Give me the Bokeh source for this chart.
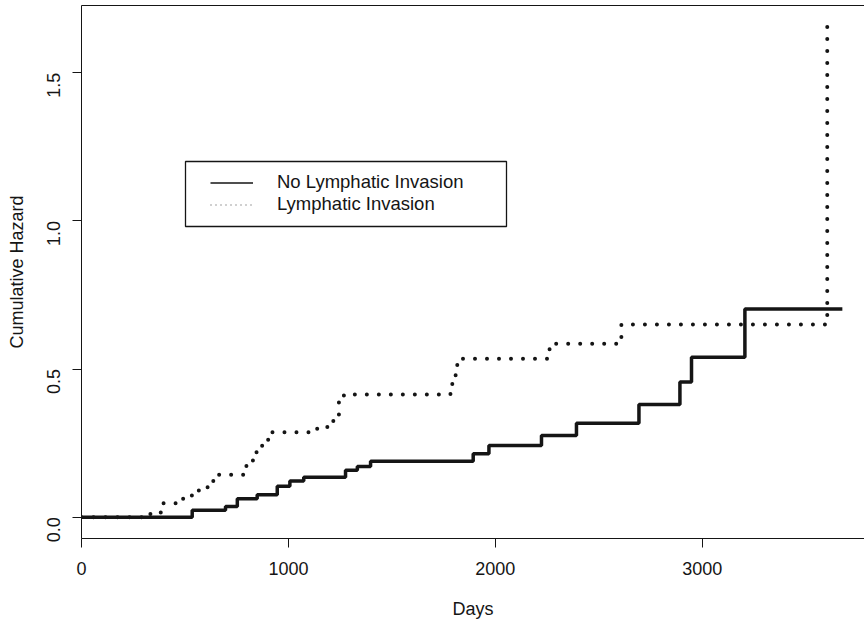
import math
from bokeh.plotting import figure
from bokeh.models import (Range1d, FixedTicker, PrintfTickFormatter, LinearAxis,
                          Legend, LegendItem, BoxAnnotation)
from bokeh.embed import file_html
from bokeh.resources import INLINE

# ---- data ----
no_li_days = [0, 535, 696, 753, 849, 946, 1007, 1074, 1276, 1333, 1397, 1893,
              1969, 2223, 2392, 2694, 2892, 2948, 3206, 3677]
no_li_hazard = [0, 0.023, 0.036, 0.062, 0.076, 0.104, 0.122, 0.135, 0.158, 0.171,
                0.189, 0.214, 0.242, 0.276, 0.317, 0.380, 0.456, 0.540, 0.703, 0.703]

li_days = [0, 333, 391, 478, 519, 559, 599, 637, 784, 797, 846, 873, 902, 1139,
           1188, 1217, 1244, 1268, 1783, 1792, 1808, 1816, 2262, 2609, 3604]
li_hazard = [0, 0.016, 0.047, 0.062, 0.073, 0.090, 0.101, 0.143, 0.160, 0.191,
             0.239, 0.253, 0.287, 0.304, 0.315, 0.332, 0.394, 0.414, 0.437, 0.472,
             0.503, 0.535, 0.585, 0.650, 1.660]

x_ticks = [0, 1000, 2000, 3000]
y_ticks = [0.0, 0.5, 1.0, 1.5]
series_labels = ["No Lymphatic Invasion", "Lymphatic Invasion"]
x_title = "Days"
y_title = "Cumulative Hazard"

FONT = "Liberation Sans"
INK = "#151515"
NAN = float("nan")

p = figure(width=864, height=625, output_backend="svg", toolbar_location=None,
           x_range=Range1d(0, 3784), y_range=Range1d(-0.072, 1.727),
           min_border_left=81, min_border_right=0, min_border_top=5,
           min_border_bottom=87)
p.outline_line_color = None
p.grid.visible = False
p.background_fill_color = "white"
p.border_fill_color = "white"

# axes
p.xaxis.ticker = FixedTicker(ticks=x_ticks)
p.yaxis.ticker = FixedTicker(ticks=y_ticks)
p.yaxis.formatter = PrintfTickFormatter(format="%.1f")
p.yaxis.major_label_orientation = math.pi / 2
p.xaxis.axis_label = x_title
p.yaxis.axis_label = y_title
for ax in (p.xaxis, p.yaxis):
    ax.minor_tick_line_color = None
    ax.major_tick_in = 0
    ax.major_tick_out = 9
    ax.axis_line_color = INK
    ax.major_tick_line_color = INK
    ax.major_label_text_font = FONT
    ax.major_label_text_font_size = "18px"
    ax.major_label_text_color = INK
    ax.axis_label_text_font = FONT
    ax.axis_label_text_font_size = "18px"
    ax.axis_label_text_font_style = "normal"
    ax.axis_label_text_color = INK
p.xaxis.major_label_standoff = 14
p.xaxis.axis_label_standoff = 21
p.yaxis.major_label_standoff = 19
p.yaxis.axis_label_standoff = 11

top_axis = LinearAxis(ticker=FixedTicker(ticks=[]), major_tick_out=0, major_tick_in=0,
                      minor_tick_out=0, minor_tick_in=0, major_label_standoff=0,
                      major_label_text_font_size="0px", axis_line_color=INK)
p.add_layout(top_axis, "above")

# data lines
p.step(no_li_days, no_li_hazard, mode="after", line_color=INK, line_width=3.5)
p.step(li_days, li_hazard, mode="after", line_color=INK, line_width=4,
       line_dash="0 12", line_cap="round")

# legend (thin key lines, as in the reference)
leg_solid = p.line(x=[NAN], y=[NAN], line_color=INK, line_width=1.3)
leg_dot = p.line(x=[NAN], y=[NAN], line_color="#444444", line_width=1.2,
                 line_dash="1 4")
legend = Legend(items=[LegendItem(label=series_labels[0], renderers=[leg_solid]),
                       LegendItem(label=series_labels[1], renderers=[leg_dot])],
                location=(129, 323), padding=0, margin=0, spacing=0,
                border_line_color=None, background_fill_alpha=0,
                glyph_width=43, glyph_height=21, label_height=21,
                label_standoff=24, label_text_font=FONT,
                label_text_font_size="18.5px", label_text_color=INK)
p.add_layout(legend)

box = BoxAnnotation(left=185, right=506, top=161, bottom=226,
                    left_units="canvas", right_units="canvas",
                    top_units="canvas", bottom_units="canvas",
                    fill_alpha=0, line_color=INK, line_alpha=1.0, line_width=1.3)
p.add_layout(box)

open("out.html", "w").write(file_html(p, INLINE))
